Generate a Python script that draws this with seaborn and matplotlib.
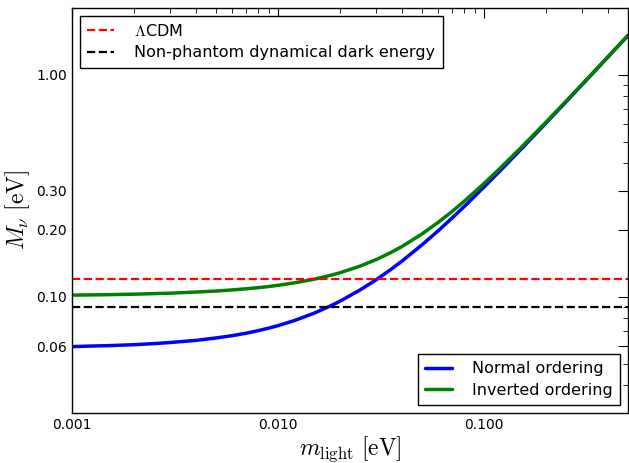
import numpy as np
import pandas as pd
import seaborn as sns
import matplotlib.pyplot as plt
from matplotlib.ticker import FormatStrFormatter, NullFormatter, LogLocator
from matplotlib.lines import Line2D

# lightest neutrino mass [eV] and summed mass
m_light = [0.001, 0.0012, 0.0015, 0.002, 0.0025, 0.003, 0.004, 0.005, 0.006, 0.007, 0.008,
           0.009, 0.01, 0.012, 0.015, 0.018, 0.02, 0.025, 0.03, 0.035, 0.04, 0.05, 0.06,
           0.07, 0.08, 0.1, 0.12, 0.15, 0.2, 0.25, 0.3, 0.4, 0.5]
normal = [0.0597, 0.0600, 0.0603, 0.0609, 0.0616, 0.0623, 0.0637, 0.0653, 0.0669, 0.0686, 0.0704,
          0.0723, 0.0742, 0.0782, 0.0845, 0.0911, 0.0956, 0.1074, 0.1195, 0.1321, 0.1450, 0.1715, 0.1987,
          0.2266, 0.2548, 0.3122, 0.3703, 0.4584, 0.6063, 0.7551, 0.9043, 1.2032, 1.5026]
inverted = [0.1018, 0.1020, 0.1023, 0.1028, 0.1034, 0.1039, 0.1051, 0.1062, 0.1075, 0.1087, 0.1100,
            0.1113, 0.1127, 0.1156, 0.1201, 0.1250, 0.1284, 0.1375, 0.1473, 0.1577, 0.1686, 0.1920, 0.2167,
            0.2425, 0.2691, 0.3239, 0.3803, 0.4665, 0.6125, 0.7600, 0.9084, 1.2063, 1.5051]

lcdm_bound = 0.12
npde_bound = 0.09

xticks = [0.001, 0.01, 0.1]
yticks = [0.06, 0.1, 0.2, 0.3, 1.0]

sns.set_style("white")
plt.rcParams['font.family'] = ['DejaVu Sans']
plt.rcParams['mathtext.fontset'] = 'cm'
plt.rcParams['xtick.direction'] = 'in'
plt.rcParams['ytick.direction'] = 'in'
for k in ['text.color', 'axes.labelcolor', 'xtick.color', 'ytick.color']:
    plt.rcParams[k] = 'black'

df = pd.DataFrame({
    "m": m_light * 2,
    "M": normal + inverted,
    "ordering": ["Normal ordering"] * len(m_light) + ["Inverted ordering"] * len(m_light),
})

fig = plt.figure(figsize=(6.29, 4.63), dpi=100)
ax = fig.add_axes([0.1145, 0.108, 0.884, 0.875])

sns.lineplot(data=df, x="m", y="M", hue="ordering", palette=["#0000ff", "#008000"],
             lw=2.5, ax=ax, legend=False)
ax.axhline(lcdm_bound, color="#ff0000", ls="--", lw=1.6)
ax.axhline(npde_bound, color="black", ls="--", lw=1.6)

ax.set_xscale("log")
ax.set_yscale("log")
ax.set_xlim(0.001, 0.5)
ax.set_ylim(0.03, 2.0)

ax.set_xticks(xticks)
ax.set_yticks(yticks)
ax.xaxis.set_major_formatter(FormatStrFormatter("%.3f"))
ax.yaxis.set_major_formatter(FormatStrFormatter("%.2f"))
ax.xaxis.set_minor_locator(LogLocator(subs=np.arange(2, 10)))
ax.yaxis.set_minor_locator(LogLocator(subs=np.arange(2, 10)))
ax.xaxis.set_minor_formatter(NullFormatter())
ax.yaxis.set_minor_formatter(NullFormatter())
ax.tick_params(which="both", top=True, right=True, labelsize=10, color="black")
ax.tick_params(which="major", length=7, width=0.8)
ax.tick_params(which="minor", length=3.5, width=0.6)
for s in ax.spines.values():
    s.set_color("black")
    s.set_linewidth(1.0)

ax.set_xlabel(r"$m_{\mathrm{light}}\ [\mathrm{eV}]$", fontsize=17, labelpad=2)
ax.set_ylabel(r"$M_{\nu}\ [\mathrm{eV}]$", fontsize=17, labelpad=3)

leg_kw = dict(fontsize=11.5, frameon=True, fancybox=False, edgecolor="black", framealpha=1,
              borderaxespad=0.5, handlelength=1.7, handletextpad=1.25, borderpad=0.45,
              labelspacing=0.4)

h_top = [Line2D([], [], color="#ff0000", ls="--", lw=1.6),
         Line2D([], [], color="black", ls="--", lw=1.6)]
leg1 = ax.legend(h_top, [r"$\Lambda$CDM", "Non-phantom dynamical dark energy"],
                 loc="upper left", **leg_kw)
leg1.get_frame().set_linewidth(1.0)
ax.add_artist(leg1)

h_bot = [Line2D([], [], color="#0000ff", lw=2.5),
         Line2D([], [], color="#008000", lw=2.5)]
leg2 = ax.legend(h_bot, ["Normal ordering", "Inverted ordering"],
                 loc="lower right", **leg_kw)
leg2.get_frame().set_linewidth(1.0)

fig.savefig("out.png", dpi=100)
